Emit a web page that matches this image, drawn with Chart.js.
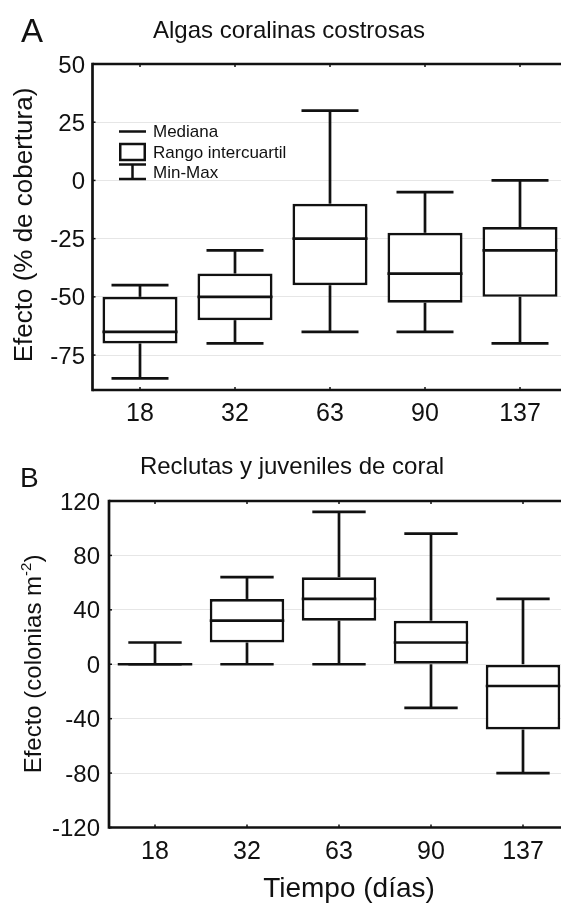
<!DOCTYPE html>
<html>
<head>
<meta charset="utf-8">
<script src="https://cdn.jsdelivr.net/npm/chart.js@4.4.0/dist/chart.umd.min.js"></script>
<style>
  html, body { margin: 0; padding: 0; background: #fff; overflow: hidden; width: 561px; height: 904px; }
  .panel { position: absolute; left: 0; width: 580px; }
  #panelA { top: 0; height: 440px; }
  #panelB { top: 440px; height: 464px; }
</style>
</head>
<body>
<div class="panel" id="panelA"><canvas id="chartA"></canvas></div>
<div class="panel" id="panelB"><canvas id="chartB"></canvas></div>
<script>
// tiempo en dias
const dias = ['18', '32', '63', '90', '137'];

// A - algas coralinas costrosas (% de cobertura)
const algasMin = [-85, -70, -65, -65, -70];
const algasQ1 = [-70, -60, -45, -52.5, -50];
const algasMediana = [-65, -50, -25, -40, -30];
const algasQ3 = [-50, -40, -10, -22.5, -20];
const algasMax = [-45, -30, 30, -5, 0];
const algasTicks = [50, 25, 0, -25, -50, -75];

// B - reclutas y juveniles de coral (colonias m-2)
const coralMin = [0, 0, 0, -32, -80];
const coralQ1 = [0, 16, 32, 0, -48];
const coralMediana = [0, 32, 48, 16, -16];
const coralQ3 = [0, 48, 64, 32, 0];
const coralMax = [16, 64, 112, 96, 48];
const coralTicks = [120, 80, 40, 0, -40, -80, -120];

const INK = '#111';
const FONT = '"Liberation Sans", Arial, sans-serif';
const LW = 2.7;

function txt(ctx, s, x, y, size, align, rot) {
  ctx.save();
  ctx.font = size + 'px ' + FONT;
  ctx.fillStyle = INK;
  ctx.textAlign = align || 'center';
  ctx.textBaseline = 'alphabetic';
  ctx.translate(x, y);
  if (rot) ctx.rotate(-Math.PI / 2);
  ctx.fillText(s, 0, 0);
  ctx.restore();
}

function hline(ctx, x1, x2, y) {
  ctx.beginPath(); ctx.moveTo(x1, y); ctx.lineTo(x2, y); ctx.stroke();
}
function vline(ctx, x, y1, y2) {
  ctx.beginPath(); ctx.moveTo(x, y1); ctx.lineTo(x, y2); ctx.stroke();
}

// whiskers, caps, medians and the frame, all from the chart scales
const boxPlugin = {
  id: 'boxExtras',
  afterDatasetsDraw(chart, args, opts) {
    const ctx = chart.ctx;
    const xs = chart.scales.x, ys = chart.scales.y;
    const area = chart.chartArea;
    const bars = chart.getDatasetMeta(0).data;
    ctx.save();
    ctx.strokeStyle = INK;
    ctx.lineWidth = LW;
    ctx.lineCap = 'butt';
    for (let i = 0; i < opts.mediana.length; i++) {
      const xc = xs.getPixelForValue(i + 1);
      const capL = xs.getPixelForValue(i + 1 - opts.cap);
      const capR = xs.getPixelForValue(i + 1 + opts.cap);
      const yMax = ys.getPixelForValue(opts.max[i]);
      const yMin = ys.getPixelForValue(opts.min[i]);
      const yQ3 = ys.getPixelForValue(opts.q3[i]);
      const yQ1 = ys.getPixelForValue(opts.q1[i]);
      vline(ctx, xc, yMax, yQ3);
      vline(ctx, xc, yQ1, yMin);
      hline(ctx, capL, capR, yMax);
      hline(ctx, capL, capR, yMin);
      const half = bars[i].width / 2;
      hline(ctx, xc - half, xc + half, ys.getPixelForValue(opts.mediana[i]));
    }
    // frame: left, top, bottom
    const w = chart.width;
    vline(ctx, area.left, area.top - LW / 2, area.bottom + LW / 2);
    hline(ctx, area.left, w, area.top);
    hline(ctx, area.left, w, area.bottom);
    // small inward tick marks
    ctx.lineWidth = 1.5;
    for (let i = 0; i < opts.mediana.length; i++) {
      const xc = xs.getPixelForValue(i + 1);
      vline(ctx, xc, area.top, area.top + 3);
      vline(ctx, xc, area.bottom, area.bottom - 3);
    }
    ys.ticks.forEach(t => {
      hline(ctx, area.left, area.left + 3, ys.getPixelForValue(t.value));
    });
    ctx.restore();
  }
};

// tick labels and titles drawn from the scales and label arrays
const labelPlugin = {
  id: 'labels',
  afterDraw(chart, args, opts) {
    const ctx = chart.ctx;
    const xs = chart.scales.x, ys = chart.scales.y;
    ys.ticks.forEach(t => {
      const py = ys.getPixelForValue(t.value);
      txt(ctx, String(t.value), opts.yLabelRight, py + opts.tickSize * 0.36, opts.tickSize, 'right');
    });
    dias.forEach((d, i) => {
      txt(ctx, d, xs.getPixelForValue(i + 1), opts.xLabelBase, opts.xTickSize, 'center');
    });
    txt(ctx, opts.letter, opts.letterX, opts.letterY, opts.letterSize, 'left');
    txt(ctx, opts.title, opts.titleX, opts.titleY, opts.titleSize, 'center');
    opts.extra(ctx, chart);
  }
};

function boxConfig(min, q1, med, q3, max, ticks, yMin, yMax, pad, catPct, labelOpts, extrasCap) {
  return {
    type: 'bar',
    data: {
      datasets: [{
        data: dias.map((d, i) => ({ x: i + 1, y: [q1[i], q3[i]] })),
        backgroundColor: '#ffffff',
        borderColor: INK,
        borderWidth: LW,
        borderSkipped: false,
        barPercentage: 1,
        categoryPercentage: catPct
      }]
    },
    options: {
      responsive: true,
      maintainAspectRatio: false,
      animation: false,
      layout: { padding: pad },
      plugins: {
        legend: { display: false },
        tooltip: { enabled: false },
        boxExtras: { min: min, q1: q1, mediana: med, q3: q3, max: max, cap: extrasCap },
        labels: labelOpts
      },
      scales: {
        x: {
          type: 'linear',
          min: 0.5,
          max: 5.5,
          offset: false,
          afterBuildTicks: s => { s.ticks = dias.map((d, i) => ({ value: i + 1 })); },
          grid: { display: false, offset: false },
          border: { display: false },
          ticks: { display: false },
          afterFit: s => { s.height = 0; }
        },
        y: {
          min: yMin,
          max: yMax,
          afterBuildTicks: s => { s.ticks = ticks.map(v => ({ value: v })); },
          grid: { color: '#e6e6e6', lineWidth: 1, drawTicks: false },
          border: { display: false },
          ticks: { display: false },
          afterFit: s => { s.width = 0; }
        }
      }
    },
    plugins: [boxPlugin, labelPlugin]
  };
}

const chartA = new Chart(document.getElementById('chartA'), boxConfig(
  algasMin, algasQ1, algasMediana, algasQ3, algasMax, algasTicks, -90, 50,
  { left: 92.5, right: 12.5, top: 64, bottom: 50 }, 0.79,
  {
    yLabelRight: 85, tickSize: 24, xTickSize: 25, xLabelBase: 421,
    letter: 'A', letterX: 21, letterY: 42, letterSize: 33,
    title: 'Algas coralinas costrosas', titleX: 289, titleY: 38, titleSize: 24,
    extra: (ctx) => {
      txt(ctx, 'Efecto (% de cobertura)', 32, 225, 26, 'center', true);
      // legend
      ctx.save();
      ctx.strokeStyle = INK;
      ctx.lineWidth = 2.5;
      hline(ctx, 119, 146, 131.5);
      ctx.strokeRect(120.25, 144, 24.5, 16);
      hline(ctx, 119, 146, 164.5);
      vline(ctx, 132.5, 164.5, 179);
      hline(ctx, 119, 146, 179);
      ctx.restore();
      txt(ctx, 'Mediana', 153, 137, 17, 'left');
      txt(ctx, 'Rango intercuartil', 153, 157.5, 17, 'left');
      txt(ctx, 'Min-Max', 153, 177.5, 17, 'left');
    }
  }, 0.3
));

const chartB = new Chart(document.getElementById('chartB'), boxConfig(
  coralMin, coralQ1, coralMediana, coralQ3, coralMax, coralTicks, -120, 120,
  { left: 109, right: 11, top: 61, bottom: 76.5 }, 0.81,
  {
    yLabelRight: 100, tickSize: 24, xTickSize: 25, xLabelBase: 419,
    letter: 'B', letterX: 20, letterY: 47, letterSize: 28,
    title: 'Reclutas y juveniles de coral', titleX: 292, titleY: 34, titleSize: 24,
    extra: (ctx) => {
      // rotated y title with superscript
      const main = 'Efecto (colonias m';
      const sup = '-2';
      const end = ')';
      const size = 24;
      ctx.save();
      ctx.fillStyle = INK;
      ctx.font = size + 'px ' + FONT;
      const wMain = ctx.measureText(main).width;
      const wEnd = ctx.measureText(end).width;
      ctx.font = Math.round(size * 0.62) + 'px ' + FONT;
      const wSup = ctx.measureText(sup).width;
      const total = wMain + wSup + wEnd;
      ctx.translate(41, 224);
      ctx.rotate(-Math.PI / 2);
      ctx.textAlign = 'left';
      ctx.textBaseline = 'alphabetic';
      let x0 = -total / 2;
      ctx.font = size + 'px ' + FONT;
      ctx.fillText(main, x0, 0);
      x0 += wMain;
      ctx.font = Math.round(size * 0.62) + 'px ' + FONT;
      ctx.fillText(sup, x0, -size * 0.42);
      x0 += wSup;
      ctx.font = size + 'px ' + FONT;
      ctx.fillText(end, x0, 0);
      ctx.restore();
      txt(ctx, 'Tiempo (días)', 349, 457, 28, 'center');
    }
  }, 0.29
));
</script>
</body>
</html>
